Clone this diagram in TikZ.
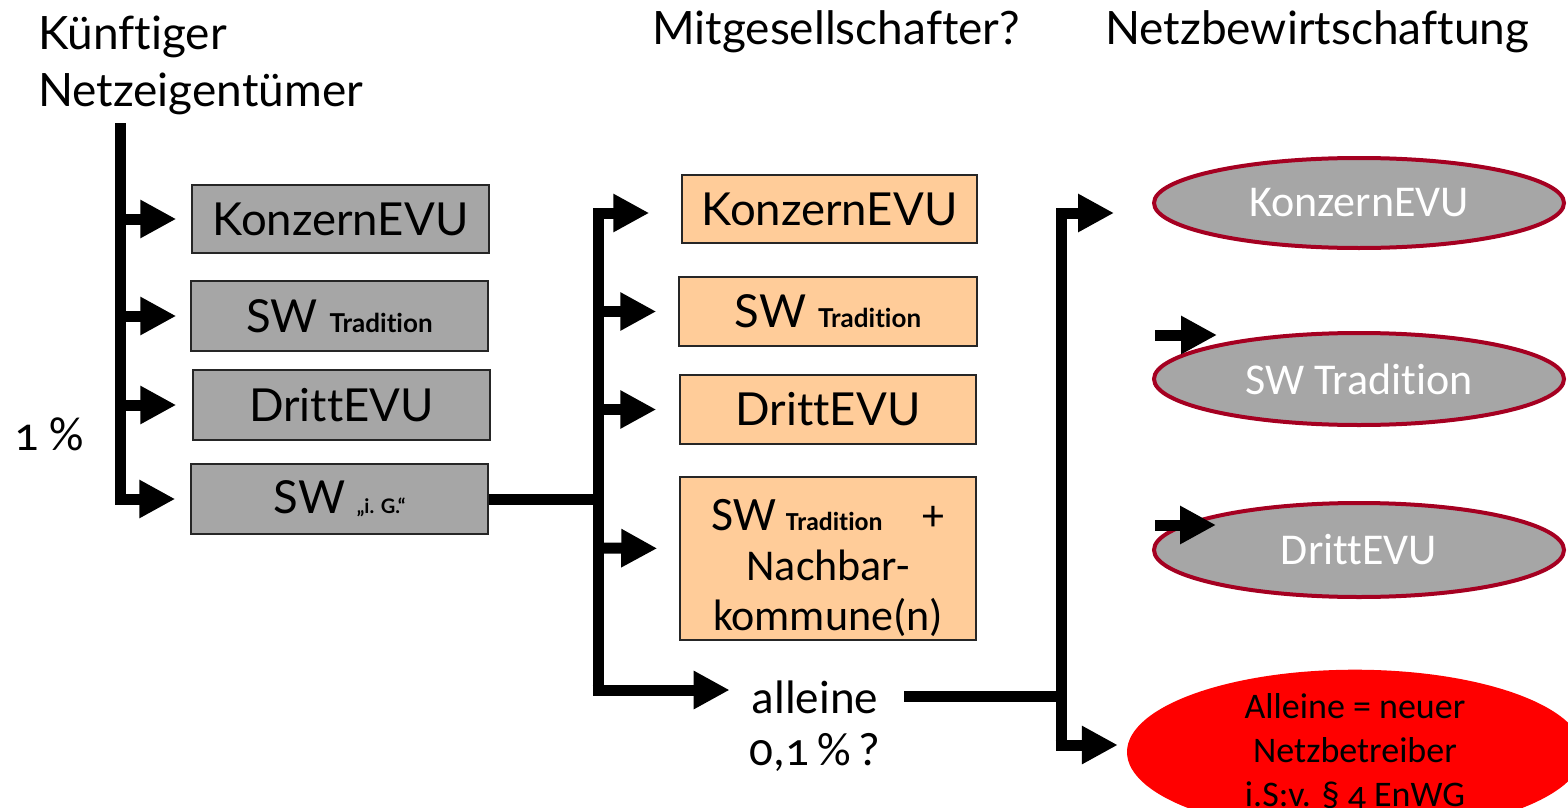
\documentclass[tikz,border=0pt]{standalone}
\usepackage{fontspec}
\setmainfont[Ligatures=CommonOff]{Lato}
\newfontfamily\corb[Numbers=OldStyle,Ligatures=CommonOff]{Carlito}
\usetikzlibrary{arrows.meta,shapes.geometric}
\definecolor{boxgray}{HTML}{A6A6A6}
\definecolor{peach}{HTML}{FFCC99}
\definecolor{rim}{HTML}{A50021}
\definecolor{edge}{HTML}{262626}
\newcommand\subt[1]{{\bfseries\fontsize{26}{30}\selectfont #1}}
\begin{document}
\begin{tikzpicture}[x=1pt,y=-1pt,
  bar/.style={line width=11pt, line join=miter},
  arr/.style={-{Triangle[length=36pt,width=36pt]}},
  gbox/.style={draw=edge, line width=1.5pt, fill=boxgray, minimum width=297pt,
    minimum height=70pt, inner sep=0pt, font=\fontsize{45.5}{50}\selectfont},
  obox/.style={gbox, fill=peach},
  oval/.style={ellipse, draw=rim, line width=4pt, fill=boxgray, text=white,
    minimum width=410pt, minimum height=92pt, inner sep=0pt,
    font=\corb\fontsize{44}{50}\selectfont},
  hdr/.style={anchor=base west, inner sep=0pt, font=\fontsize{46}{50}\selectfont},
  plain/.style={inner sep=0pt, font=\corb\fontsize{45}{52}\selectfont}
]
\useasboundingbox (0,0) rectangle (1568,808);

% column headings
\node[hdr] (h1) at (38,50) {Künftiger};
\node[hdr] (h1b) at (38,106) {Netzeigentümer};
\node[hdr] (h2) at (652,45) {Mitgesellschafter?};
\node[hdr] (h3) at (1105,45) {Netzbewirtschaftung};
\node[plain, anchor=base west, font=\corb\fontsize{48}{52}\selectfont] (pct1) at (14,450) {1 \%};

% future owners
\node[gbox, minimum height=68pt] (k1) at (340.5,219) {KonzernEVU};
\node[gbox] (s1) at (339.5,316) {SW \subt{Tradition}};
\node[gbox] (d1) at (341.5,405) {DrittEVU};
\node[gbox] (g1) at (339.5,499) {SW \subt{\fontsize{20}{24}\selectfont „i. G.“}};

% partners
\node[obox, minimum width=295pt, minimum height=68pt] (o1) at (829.5,209) {KonzernEVU};
\node[obox, minimum width=298pt, minimum height=69pt] (o2) at (828,311.5) {SW \subt{Tradition}};
\node[obox, minimum width=296pt, minimum height=69pt] (o3) at (828,409.5) {DrittEVU};
\node[obox, minimum width=296pt, minimum height=163pt] (o4) at (828,558.5) {};
\node[plain, align=center, anchor=north, font=\corb\fontsize{44}{50}\selectfont] (o4t) at (828,499)
  {{\fontsize{48}{50}\selectfont SW} \subt{Tradition}\hspace{40pt}+\\Nachbar-\\kommune(n)};
\node[plain, anchor=base, font=\corb\fontsize{47}{52}\selectfont] (al) at (815,713) {alleine};
\node[plain, anchor=base, font=\corb\fontsize{47}{52}\selectfont] (al2) at (815,765) {0,1\,\%\,?};

% network operation
\node[oval, minimum height=90pt] (e1) at (1359,203) {KonzernEVU};
\node[oval] (e2) at (1359,379) {SW Tradition};
\node[oval, minimum height=94pt] (e3) at (1359,550) {DrittEVU};
\node[ellipse, fill=red, minimum width=456pt, minimum height=150pt, inner sep=0pt,
  align=center, font=\corb\fontsize{36}{44}\selectfont] (nb) at (1355,752)
  {Alleine = neuer\\Netzbetreiber\\i.S:v. § 4 EnWG};

% left branch
\coordinate (ltop) at (120,123);
\draw[bar,arr,shorten >=15pt] (ltop) |- (g1.west);
\draw[bar,arr,shorten >=15pt] (ltop |- k1.west) -- (k1.west);
\draw[bar,arr,shorten >=14pt] (ltop |- s1.west) -- (s1.west);
\draw[bar,arr,shorten >=16pt] (ltop |- d1.west) -- (d1.west);

% middle branch
\coordinate (mbot) at (598,690);
\draw[bar] (g1.east) -- (g1.east -| mbot);
\draw[bar,arr,shorten >=32pt] (mbot) |- ([yshift=-4pt]o1.west);
\draw[bar,arr,shorten >=22pt] (mbot |- o2.west) -- (o2.west);
\draw[bar,arr,shorten >=23pt] (mbot |- o3.west) -- (o3.west);
\draw[bar,arr,shorten >=22pt] (mbot |- 0,548) -- ([yshift=10pt]o4.west);
\draw[bar,arr,shorten >=22pt] ([xshift=-5.5pt]mbot) -- (al.west |- mbot);

% right branch
\coordinate (rbot) at (1061,745);
\draw[bar] ([xshift=26pt]al.east) -- (al.east -| rbot);
\draw[bar,arr,shorten >=38pt] (rbot) |- ([yshift=-10pt]e1.west);
\draw[bar,arr,shorten >=9pt] ([xshift=-5.5pt]rbot) -- (nb.west |- rbot);
\coordinate (fa) at (1155,335);
\coordinate (fb) at (1217,335);
\coordinate (fc) at (1155,525);
\coordinate (fd) at (1216,525);
\draw[bar,arr] (fa) -- (fb);
\draw[bar,arr] (fc) -- (fd);
\end{tikzpicture}
\end{document}
